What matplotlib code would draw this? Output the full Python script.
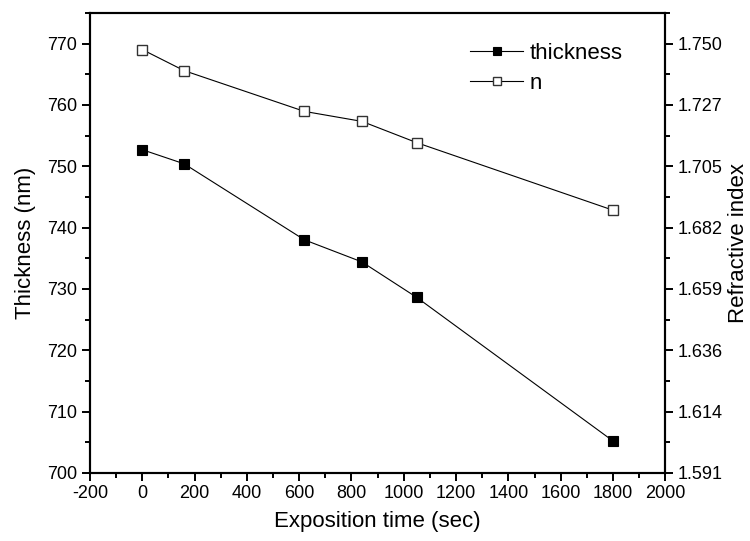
import numpy as np
import matplotlib.pyplot as plt
from matplotlib.ticker import MultipleLocator, AutoMinorLocator

plt.rcParams['font.family'] = ['Liberation Sans', 'DejaVu Sans']
plt.rcParams['axes.unicode_minus'] = False

# tiempos de exposicion (s) y resultados medidos
exposition_time = [0, 160, 620, 840, 1050, 1800]
thickness = [752.7, 750.4, 738.0, 734.4, 728.6, 705.2]
refr_index = [1.7478, 1.7400, 1.7249, 1.7212, 1.7133, 1.6883]

# eje derecho ligado al izquierdo: 700 nm -> 1.591, 770 nm -> 1.750
n_ticks = np.linspace(1.591, 1.750, 8)
n_labels = ['%.3f' % v for v in n_ticks]

fig = plt.figure(figsize=(7.5, 5.41), dpi=100)
ax = fig.add_axes([0.12, 0.126, 0.767, 0.85])
ax2 = ax.twinx()

l1, = ax.plot(exposition_time, thickness, color='black', lw=0.8,
              marker='s', ms=7.5, mfc='black', mec='black', mew=0.8,
              label='thickness')
l2, = ax2.plot(exposition_time, refr_index, color='black', lw=0.8,
               marker='s', ms=7.5, mfc='white', mec='#333333', mew=1.0,
               label='n')

ax.set_xlim(-200, 2000)
ax.set_ylim(700, 775)
ax2.set_ylim(1.591, 1.591 + 75 * (1.750 - 1.591) / 70)

ax.xaxis.set_major_locator(MultipleLocator(200))
ax.xaxis.set_minor_locator(MultipleLocator(100))
ax.yaxis.set_major_locator(MultipleLocator(10))
ax.yaxis.set_minor_locator(MultipleLocator(5))
ax2.set_yticks(n_ticks)
ax2.set_yticklabels(n_labels)
ax2.yaxis.set_minor_locator(AutoMinorLocator(2))

for a in (ax, ax2):
    for s in a.spines.values():
        s.set_linewidth(1.5)
    a.tick_params(which='major', direction='out', length=6, width=1.4,
                  labelsize=13, pad=3)
    a.tick_params(which='minor', direction='out', length=3.6, width=1.4)
ax.tick_params(axis='x', which='both', top=False)

ax.set_xlabel('Exposition time (sec)', fontsize=16, labelpad=6)
ax.set_ylabel('Thickness (nm)', fontsize=16, labelpad=8)
ax2.set_ylabel('Refractive index', fontsize=16, labelpad=4)

ax2.legend(handles=[l1, l2], loc='upper left',
           bbox_to_anchor=(470 / 750, 1 - 43 / 541),
           bbox_transform=fig.transFigure, frameon=False, fontsize=16,
           handlelength=2.4, handletextpad=0.3, labelspacing=0.4,
           borderpad=0, borderaxespad=0, markerscale=0.8)

fig.savefig('out.png', dpi=100)
